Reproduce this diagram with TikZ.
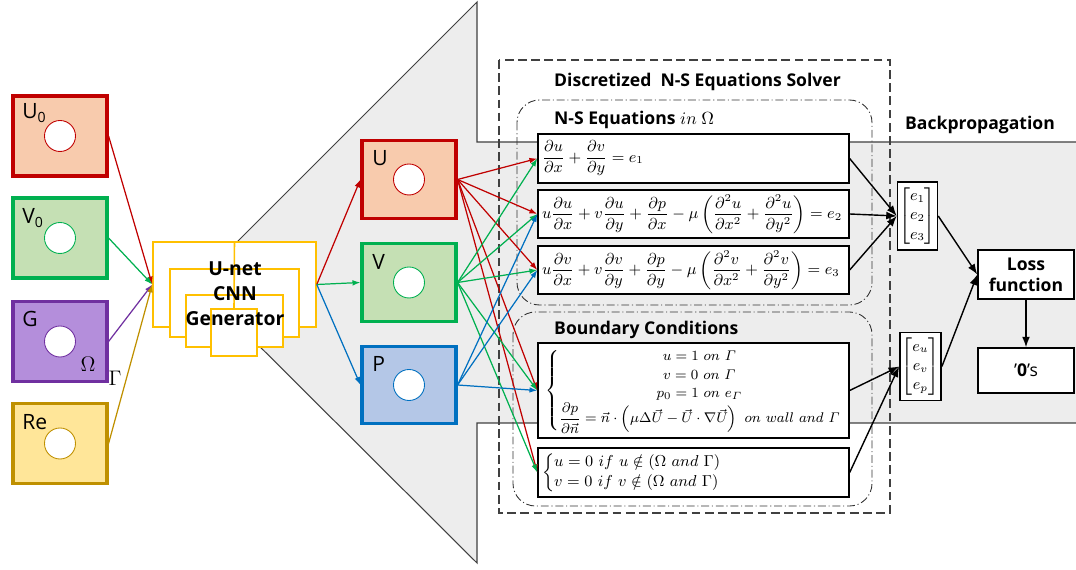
\documentclass[tikz,border=0pt]{standalone}
\usepackage{amsmath}
\usepackage{amssymb}
\usepackage[no-math]{fontspec}
\setmainfont{Open Sans}
\usetikzlibrary{arrows.meta}

\definecolor{ured}{HTML}{C00000}
\definecolor{ufill}{HTML}{F8CBAD}
\definecolor{vgreen}{HTML}{00B050}
\definecolor{vfill}{HTML}{C5E0B4}
\definecolor{gpurple}{HTML}{7030A0}
\definecolor{gfill}{HTML}{B48EDB}
\definecolor{regold}{HTML}{BF9000}
\definecolor{refill}{HTML}{FFE699}
\definecolor{pblue}{HTML}{0070C0}
\definecolor{pfill}{HTML}{B4C7E7}
\definecolor{unetyellow}{HTML}{FFC000}
\definecolor{bandgray}{HTML}{EDEDED}
\definecolor{edgegray}{HTML}{404040}

\tikzset{
  field/.style n args={2}{draw=#1, fill=#2, line width=1.8pt, minimum width=1.88cm, minimum height=1.6cm},
  hole/.style={draw=#1, fill=white, circle, line width=0.5pt, minimum size=0.62cm, inner sep=0pt},
  flab/.style={anchor=west, inner sep=0pt, font=\large},
  unetbox/.style={draw=unetyellow, fill=white, line width=0.9pt},
  eqbox/.style={draw, thick, fill=white, minimum width=6.22cm, text width=6.06cm, inner xsep=0.08cm, inner ysep=0pt, align=left, font=\small},
  vecbox/.style={draw, thick, fill=white, inner sep=1pt, minimum width=0.78cm, minimum height=1.36cm, font=\small},
  lossbox/.style={draw, thick, fill=white, minimum width=1.92cm, align=center},
  head/.style={anchor=west, font=\bfseries},
  feed/.style={draw=#1, -{Latex[length=4.5pt,width=3.2pt]}, line width=0.7pt},
  back/.style={-{Latex[length=6pt,width=4.5pt]}, line width=0.8pt},
  groupbox/.style={draw=black!80, dash pattern=on 4.5pt off 1.6pt on 0.6pt off 1.6pt, rounded corners=0.45cm, line width=0.5pt},
}

\begin{document}
\begin{tikzpicture}[x=0.02cm, y=-0.02cm]
  \useasboundingbox (0,0) rectangle (1076,570);
  % grey arrow band behind the solver
  \fill[bandgray] (196,283) -- (477,2) -- (477,142) -- (1076,142) -- (1076,423) -- (477,423) -- (477,563) -- cycle;
  \draw[edgegray, line width=0.6pt] (196,283) -- (477,2) -- (477,142) -- (1076,142);
  \draw[edgegray, line width=0.6pt] (1076,423) -- (477,423) -- (477,563) -- (196,283);

  % solver frames
  \draw[black!75, dash pattern=on 5pt off 2.5pt, line width=0.6pt] (499,60) rectangle (890,513);
  \draw[groupbox] (517,100) rectangle (872,305);
  \draw[groupbox] (513,312) rectangle (872,506);
  \node[head] (solver) at (548,82) {Discretized\ \ N-S Equations Solver};
  \node[head] (nstitle) at (548,120) {N-S Equations $in\ \Omega$};
  \node[head] (bctitle) at (548,330) {Boundary Conditions};
  \node[font=\bfseries] (bptitle) at (980,125) {Backpropagation};

  % input fields
  \node[field={ured}{ufill}] (u0) at (60,136) {};
  \node[field={vgreen}{vfill}] (v0) at (60,238) {};
  \node[field={gpurple}{gfill}] (g) at (60,341.5) {};
  \node[field={regold}{refill}] (re) at (60,443.5) {};
  \node[hole=ured] (u0h) at (u0) {};
  \node[hole=vgreen] (v0h) at (v0) {};
  \node[hole=gpurple] (gh) at (g) {};
  \node[hole=regold] (reh) at (re) {};
  \node[flab] (u0l) at (22,113) {U\textsubscript{0}};
  \node[flab] (v0l) at (22,218) {V\textsubscript{0}};
  \node[flab] (gl) at (22,319) {G};
  \node[flab] (rel) at (22,422) {Re};
  \node[font=\large] (gom) at (88,364) {$\Omega$};
  \node[font=\large] (gga) at (115,378) {$\Gamma$};

  % U-net stack
  \node[unetbox, minimum width=3.26cm, minimum height=1.7cm] (unet) at (234.5,284.5) {};
  \node[unetbox, minimum width=2.58cm, minimum height=1.36cm] (unetb) at (234.5,303) {};
  \node[unetbox, minimum width=1.94cm, minimum height=1.04cm] (unetc) at (234.5,321) {};
  \node[unetbox, minimum width=0.92cm, minimum height=0.94cm] (unetd) at (234,332.5) {};
  \draw[unetyellow, line width=0.9pt] (unet.north) -- (unetd.north);
  \node[align=center, font=\bfseries\fontsize{11}{14.2}\selectfont, inner sep=0pt] (unettxt) at (235,294) {U-net\\CNN\\Generator};

  % predicted fields
  \node[field={ured}{ufill}, minimum height=1.55cm] (u) at (409,179.5) {};
  \node[field={vgreen}{vfill}, minimum height=1.55cm] (v) at (409,282.5) {};
  \node[field={pblue}{pfill}, minimum height=1.55cm] (p) at (409,385) {};
  \node[hole=ured] (uh) at (u) {};
  \node[hole=vgreen] (vh) at (v) {};
  \node[hole=pblue] (ph) at (p) {};
  \node[flab] (ul) at (372,158) {U};
  \node[flab] (vl) at (372,262) {V};
  \node[flab] (pl) at (372,364) {P};

  % equations
  \node[eqbox, minimum height=0.98cm] (eq1) at (693.5,158.5)
    {$\dfrac{\partial u}{\partial x}+\dfrac{\partial v}{\partial y}=e_1$};
  \node[eqbox, minimum height=0.96cm] (eq2) at (693.5,214)
    {$u\dfrac{\partial u}{\partial x}+v\dfrac{\partial u}{\partial y}+\dfrac{\partial p}{\partial x}-\mu\left(\dfrac{\partial^2u}{\partial x^2}+\dfrac{\partial^2u}{\partial y^2}\right)=e_2$};
  \node[eqbox, minimum height=0.96cm] (eq3) at (693.5,270)
    {$u\dfrac{\partial v}{\partial x}+v\dfrac{\partial v}{\partial y}+\dfrac{\partial p}{\partial y}-\mu\left(\dfrac{\partial^2v}{\partial x^2}+\dfrac{\partial^2v}{\partial y^2}\right)=e_3$};
  \node[eqbox, minimum height=1.9cm, align=center, font=\fontsize{8.4}{10}\selectfont] (bc1) at (693.5,390.5)
    {\renewcommand\arraystretch{1.05}$\left\{\begin{array}{@{}c@{}}
      u=1\ on\ \varGamma\\
      v=0\ on\ \varGamma\\
      p_0=1\ on\ e_{\varGamma}\\
      \dfrac{\partial p}{\partial\vec{n}}=\vec{n}\cdot\left(\mu\Delta\vec{U}-\vec{U}\cdot\nabla\vec{U}\right)\ on\ wall\ and\ \varGamma
    \end{array}\right.$};
  \node[eqbox, minimum height=0.98cm] (bc2) at (693.5,472.5)
    {$\left\{\begin{array}{@{}l@{}}
      u=0\ if\ u\notin(\Omega\ and\ \Gamma)\\
      v=0\ if\ v\notin(\Omega\ and\ \Gamma)
    \end{array}\right.$};

  % residuals and loss
  \node[vecbox] (vec1) at (917.5,216) {$\left[\begin{array}{@{}c@{}}e_1\\e_2\\e_3\end{array}\right]$};
  \node[vecbox] (vec2) at (920.5,366.5) {$\left[\begin{array}{@{}c@{}}e_u\\e_v\\e_p\end{array}\right]$};
  \node[lossbox, minimum height=0.98cm, font=\bfseries] (loss) at (1026,274.5) {Loss\\function};
  \node[lossbox, minimum height=0.9cm] (zero) at (1026,370.5) {'\textbf{0}'s};

  % connectors
  \draw[feed=ured] (u0.east) -- (unet.west);
  \draw[feed=vgreen] (v0.east) -- (unet.west);
  \draw[feed=gpurple] (g.east) -- (unet.west);
  \draw[feed=regold] (re.east) -- (unet.west);
  \draw[feed=ured] (unet.east) -- (u.west);
  \draw[feed=vgreen] (unet.east) -- (v.west);
  \draw[feed=pblue] (unet.east) -- (p.west);
  \foreach \t in {eq1,eq2,eq3,bc1,bc2}
    \draw[feed=ured] (u.east) -- (\t.west);
  \foreach \t in {eq1,eq2,eq3,bc1,bc2}
    \draw[feed=vgreen] (v.east) -- (\t.west);
  \foreach \t in {eq2,eq3,bc1}
    \draw[feed=pblue] (p.east) -- (\t.west);
  \foreach \t in {eq1,eq2,eq3}
    \draw[back] (\t.east) -- (vec1.west);
  \foreach \t in {bc1,bc2}
    \draw[back] (\t.east) -- (vec2.west);
  \draw[back] (vec1.east) -- (loss.west);
  \draw[back] (vec2.east) -- (loss.west);
  \draw[back] (loss.south) -- (zero.north);
\end{tikzpicture}
\end{document}
